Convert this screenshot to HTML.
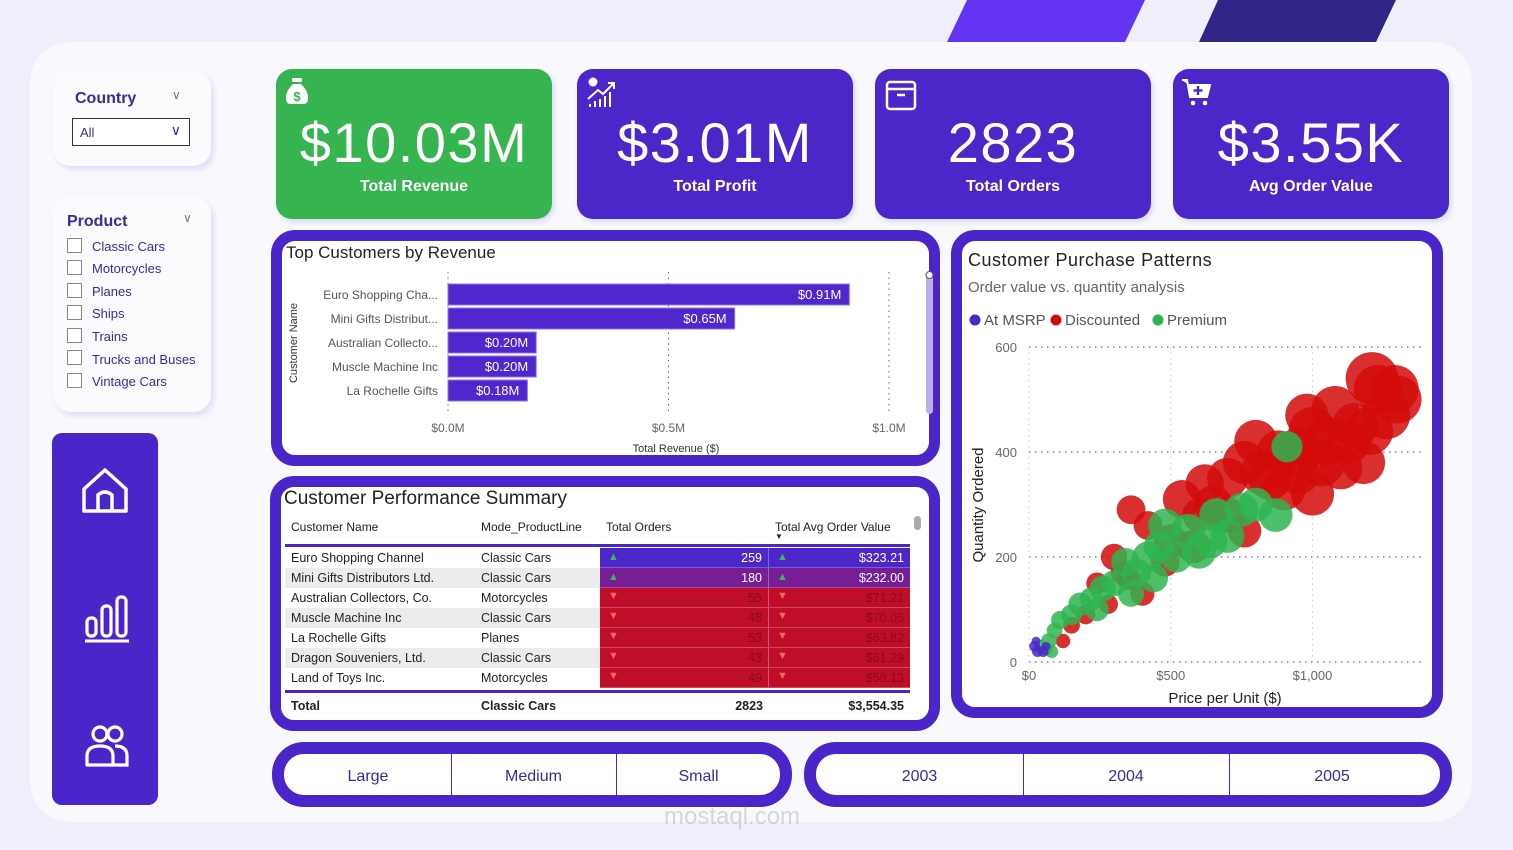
<!DOCTYPE html>
<html><head><meta charset="utf-8">
<style>
*{box-sizing:border-box;margin:0;padding:0}
body{width:1513px;height:850px;background:#efeefb;font-family:"Liberation Sans",sans-serif;position:relative;overflow:hidden}
.abs{position:absolute}
.card{position:absolute;border-radius:16px;color:#fff;text-align:center;box-shadow:2px 3px 6px rgba(80,60,200,.18)}
.kv{position:absolute;left:0;right:0;top:42px;font-size:56px;font-weight:400;letter-spacing:1.5px;line-height:64px}
.kl{position:absolute;left:0;right:0;top:109px;font-size:16px;font-weight:bold}
.panel{position:absolute;border:11px solid #4a25c9;border-radius:24px;background:#fff}
.slicer{position:absolute;background:#fbfbfe;border-radius:18px;box-shadow:3px 4px 6px rgba(120,100,230,.18)}
.chk{position:absolute;left:67px;width:15px;height:15px;border:1px solid #888;background:#fff}
.chl{position:absolute;left:92px;font-size:13px;color:#3a2a9a}
.th{position:absolute;font-size:12px;color:#222}
.td{position:absolute;font-size:12.5px;color:#222}
.seg{position:absolute;top:752px;height:46px;font-size:16px;color:#3a2a9a;text-align:center;line-height:50px}
</style></head><body>
<div class="abs" style="left:0;top:0;width:1513px;height:42px">
<svg width="1513" height="42"><polygon points="967,0 1145,0 1125,42 947,42" fill="#6434f5"/><polygon points="1218,0 1396,0 1376,42 1199,42" fill="#312687"/></svg></div>
<div class="abs" style="left:30px;top:42px;width:1442px;height:780px;background:#f9f9fd;border-radius:40px"></div>

<div class="slicer" style="left:53px;top:70px;width:158px;height:96px"></div>
<div class="abs" style="left:75px;top:90px;font-size:16px;font-weight:bold;color:#3a2a9a">Country</div>
<div class="abs" style="left:172px;top:88px;color:#777;font-size:12px">&#8744;</div>
<div class="abs" style="left:72px;top:118px;width:118px;height:28px;border:1px solid #333;background:#fff;font-size:13px;color:#3a2a9a;padding:6px 0 0 7px">All<span style="position:absolute;right:8px;top:3px;font-size:14px;color:#3a2a9a">&#8744;</span></div>

<div class="slicer" style="left:53px;top:196px;width:158px;height:216px"></div>
<div class="abs" style="left:67px;top:213px;font-size:16px;font-weight:bold;color:#3a2a9a">Product</div>
<div class="abs" style="left:183px;top:211px;color:#777;font-size:12px">&#8744;</div>
<div class="chk" style="top:238px"></div><div class="chl" style="top:239px">Classic Cars</div>
<div class="chk" style="top:260px"></div><div class="chl" style="top:261px">Motorcycles</div>
<div class="chk" style="top:283px"></div><div class="chl" style="top:284px">Planes</div>
<div class="chk" style="top:305px"></div><div class="chl" style="top:306px">Ships</div>
<div class="chk" style="top:328px"></div><div class="chl" style="top:329px">Trains</div>
<div class="chk" style="top:350px"></div><div class="chl" style="top:352px">Trucks and Buses</div>
<div class="chk" style="top:373px"></div><div class="chl" style="top:374px">Vintage Cars</div>

<div class="abs" style="left:52px;top:433px;width:106px;height:372px;background:#4a25c9;border-radius:10px"></div>
<svg class="abs" style="left:80px;top:465px" width="50" height="50" viewBox="0 0 50 50"><path d="M4 24 L25 5 L46 24 L46 46 L4 46 Z" fill="none" stroke="#fff" stroke-width="3.5" stroke-linejoin="round"/><path d="M18 46 L18 30 Q25 24 32 30 L32 46" fill="none" stroke="#fff" stroke-width="3.5"/></svg>
<svg class="abs" style="left:84px;top:594px" width="46" height="50" viewBox="0 0 46 50"><rect x="3" y="24" width="9" height="18" rx="4" fill="none" stroke="#fff" stroke-width="3.2"/><rect x="18" y="12" width="9" height="30" rx="4" fill="none" stroke="#fff" stroke-width="3.2"/><rect x="33" y="3" width="9" height="39" rx="4" fill="none" stroke="#fff" stroke-width="3.2"/><line x1="1" y1="47" x2="45" y2="47" stroke="#fff" stroke-width="3"/></svg>
<svg class="abs" style="left:84px;top:724px" width="46" height="44" viewBox="0 0 46 44"><circle cx="16" cy="10" r="7" fill="none" stroke="#fff" stroke-width="3.2"/><circle cx="31" cy="10" r="7" fill="none" stroke="#fff" stroke-width="3.2"/><path d="M3 41 L3 32 Q3 22 16 22 Q29 22 29 32 L29 41 Z" fill="none" stroke="#fff" stroke-width="3.2" stroke-linejoin="round"/><path d="M31 22 Q43 22 43 32 L43 41 L29 41" fill="none" stroke="#fff" stroke-width="3.2"/></svg>

<div class="card" style="left:276px;top:69px;width:276px;height:150px;background:#35b44f">
<svg class="abs" style="left:8px;top:8px" width="26" height="28" viewBox="0 0 26 28"><rect x="8" y="1" width="10" height="4" rx="1" fill="#fff"/><path d="M9 7 L17 7 Q25 15 24 22 Q24 27 19 27 L7 27 Q2 27 2 22 Q1 15 9 7Z" fill="#fff"/><text x="13" y="24" font-size="13" font-weight="bold" fill="#35b44f" text-anchor="middle" font-family="Liberation Sans">$</text></svg>
<div class="kv">$10.03M</div><div class="kl">Total Revenue</div></div>
<div class="card" style="left:577px;top:69px;width:276px;height:150px;background:#4b26c9">
<svg class="abs" style="left:10px;top:8px" width="30" height="32" viewBox="0 0 30 32"><circle cx="6" cy="5" r="4.5" fill="#fff"/><path d="M1 22 L11 13 L16 17 L26 7" fill="none" stroke="#fff" stroke-width="2"/><path d="M21 6 L27 6 L27 12" fill="none" stroke="#fff" stroke-width="2"/><rect x="2" y="27" width="2" height="3" fill="#fff"/><rect x="7" y="24" width="2" height="6" fill="#fff"/><rect x="12" y="22" width="2" height="8" fill="#fff"/><rect x="17" y="19" width="2" height="11" fill="#fff"/><rect x="22" y="15" width="2" height="15" fill="#fff"/></svg>
<div class="kv">$3.01M</div><div class="kl">Total Profit</div></div>
<div class="card" style="left:875px;top:69px;width:276px;height:150px;background:#4b26c9">
<svg class="abs" style="left:10px;top:10px" width="32" height="32" viewBox="0 0 32 32"><rect x="2" y="3" width="28" height="27" rx="3" fill="none" stroke="#fff" stroke-width="2.5"/><line x1="2" y1="10" x2="30" y2="10" stroke="#fff" stroke-width="2.5"/><line x1="12" y1="16" x2="20" y2="16" stroke="#fff" stroke-width="2.5"/></svg>
<div class="kv">2823</div><div class="kl">Total Orders</div></div>
<div class="card" style="left:1173px;top:69px;width:276px;height:150px;background:#4b26c9">
<svg class="abs" style="left:8px;top:8px" width="32" height="32" viewBox="0 0 32 32"><path d="M1 3 L6 3 L9 20 L26 20 L29 8 L8 8" fill="#fff" stroke="#fff" stroke-width="2"/><line x1="17" y1="9" x2="17" y2="18" stroke="#4b26c9" stroke-width="2.4"/><line x1="12.5" y1="13.5" x2="21.5" y2="13.5" stroke="#4b26c9" stroke-width="2.4"/><circle cx="12" cy="26" r="2.3" fill="#fff"/><circle cx="24" cy="26" r="2.3" fill="#fff"/></svg>
<div class="kv">$3.55K</div><div class="kl">Avg Order Value</div></div>

<div class="panel" style="left:271px;top:230px;width:669px;height:236px"></div>
<svg class="abs" id="barsvg" style="left:0;top:0" width="1513" height="850"></svg>

<div class="panel" style="left:270px;top:476px;width:670px;height:255px"></div>
<div class="abs" style="left:284px;top:488px;font-size:19px;color:#222">Customer Performance Summary</div>
<div id="tbl"></div>

<div class="panel" style="left:951px;top:230px;width:492px;height:488px"></div>
<svg class="abs" id="scsvg" style="left:0;top:0" width="1513" height="850"></svg>

<div class="abs" style="left:272px;top:742px;width:520px;height:65px;border:12px solid #4a25c9;border-radius:32px;background:#fff"></div>
<div class="seg" style="left:286px;width:164px">Large</div>
<div class="seg" style="left:451px;width:164px;border-left:1px solid #4a25c9">Medium</div>
<div class="seg" style="left:616px;width:164px;border-left:1px solid #4a25c9">Small</div>
<div class="abs" style="left:804px;top:742px;width:648px;height:65px;border:12px solid #4a25c9;border-radius:32px;background:#fff"></div>
<div class="seg" style="left:817px;width:205px">2003</div>
<div class="seg" style="left:1023px;width:205px;border-left:1px solid #4a25c9">2004</div>
<div class="seg" style="left:1229px;width:205px;border-left:1px solid #4a25c9">2005</div>
<div class="abs" style="left:664px;top:803px;font-size:24px;color:rgba(150,150,150,.35)">mostaql.com</div>

<script>
const NS='http://www.w3.org/2000/svg';
function mk(svg,tag,attrs,txt){const e=document.createElementNS(NS,tag);for(const k in attrs)e.setAttribute(k,attrs[k]);if(txt!==undefined)e.textContent=txt;svg.appendChild(e);return e;}

const barCustomers=['Euro Shopping Cha...','Mini Gifts Distribut...','Australian Collecto...','Muscle Machine Inc','La Rochelle Gifts'];
const barRevenue=[0.91,0.65,0.20,0.20,0.18];
const barLabels=['$0.91M','$0.65M','$0.20M','$0.20M','$0.18M'];
const barTicks=[0,0.5,1.0];
const barTickLabels=['$0.0M','$0.5M','$1.0M'];
(function(){
  const s=document.getElementById('barsvg');
  const xs=v=>448+v*441, ys=i=>284+i*24;
  mk(s,'text',{x:286,y:258,'font-size':17,fill:'#222','font-family':'Liberation Sans'},'Top Customers by Revenue');
  barTicks.forEach((t,i)=>{
    const g=mk(s,'line',{x1:xs(t),x2:xs(t),y1:272,y2:412,stroke:'#6a55d8','stroke-dasharray':'1.5 4'});
    
    
    const tl=mk(s,'text',{x:xs(t),y:432,'font-size':12,fill:'#666','text-anchor':'middle','font-family':'Liberation Sans'},barTickLabels[i]);
    
    
  });
  barCustomers.forEach((c,i)=>{
    const r=mk(s,'rect',{x:xs(0),y:ys(i),width:xs(barRevenue[i])-xs(0),height:21,fill:'#4f27cc',stroke:'#8c74e8','stroke-width':1});
    
    
    const cl=mk(s,'text',{x:438,y:ys(i)+15,'font-size':12,fill:'#555','text-anchor':'end','font-family':'Liberation Sans'},c);
    
    
    const vl=mk(s,'text',{x:xs(barRevenue[i])-8,y:ys(i)+15,'font-size':13,fill:'#fff','text-anchor':'end','font-family':'Liberation Sans'},barLabels[i]);
    
    
  });
  const yt=mk(s,'text',{x:297,y:343,'font-size':11,fill:'#333','text-anchor':'middle',transform:'rotate(-90 297 343)','font-family':'Liberation Sans'},'Customer Name');
  
  
  const xt=mk(s,'text',{x:676,y:452,'font-size':11,fill:'#333','text-anchor':'middle','font-family':'Liberation Sans'},'Total Revenue ($)');
  
  
  const sb=mk(s,'rect',{x:926,y:272,width:7,height:142,rx:3.5,fill:'#b9b0e8'});
  
  
  mk(s,'circle',{cx:929.5,cy:275,r:3.5,fill:'#fff',stroke:'#555'});
})();

const tCustomers=['Euro Shopping Channel','Mini Gifts Distributors Ltd.','Australian Collectors, Co.','Muscle Machine Inc','La Rochelle Gifts','Dragon Souveniers, Ltd.','Land of Toys Inc.'];
const tProducts=['Classic Cars','Classic Cars','Motorcycles','Classic Cars','Planes','Classic Cars','Motorcycles'];
const tOrders=[259,180,55,48,53,43,49];
const tAvg=[323.21,232.00,71.21,70.05,63.82,61.29,58.13];
(function(){
  const t=document.getElementById('tbl');
  function add(html,name,inter){const d=document.createElement('div');d.innerHTML=html;const e=d.firstChild;
    
    
    t.appendChild(e);}
  add('<div class="th" style="left:291px;top:520px">Customer Name</div>','header-customer-name','true');
  add('<div class="th" style="left:481px;top:520px">Mode_ProductLine</div>','header-product-line','true');
  add('<div class="th" style="left:606px;top:520px">Total Orders</div>','header-total-orders','true');
  add('<div class="th" style="left:775px;top:520px">Total Avg Order Value<div style="font-size:8px;margin-top:-2px">&#9660;</div></div>','header-avg-order-value','true');
  add('<div class="abs" style="left:285px;top:544px;width:625px;height:3px;background:#4a25c9"></div>','header-divider','false');
  add('<div class="abs" style="left:914px;top:516px;width:7px;height:14px;border-radius:4px;background:#aaa"></div>','table-scrollbar','true');
  tCustomers.forEach((c,i)=>{
    const y=548+i*20, bg=i%2?'#ececec':'#fff';
    const cell=i==0?'#4b27c9':i==1?'#771e96':'#c00d2a';
    const up=tOrders[i]>100, tc=i<2?'#fff':'#8c0a1c';
    const tri=up?'<span style="position:absolute;left:8px;top:3px;color:#3fb55a;font-size:11px">&#9650;</span>':'<span style="position:absolute;left:8px;top:2px;color:#ee6a5a;font-size:11px">&#9660;</span>';
    add(`<div class="abs" style="left:285px;top:${y}px;width:315px;height:20px;background:${bg}"></div>`,'row-bg-'+i,'false');
    add(`<div class="td" style="left:291px;top:${y+3}px">${c}</div>`,'cell-customer-'+i,'false');
    add(`<div class="td" style="left:481px;top:${y+3}px">${tProducts[i]}</div>`,'cell-product-'+i,'false');
    add(`<div class="abs" style="left:600px;top:${y}px;width:169px;height:20px;background:${cell};border-bottom:1px solid rgba(255,255,255,.25);border-right:1px solid rgba(255,255,255,.3)">${tri}<span style="position:absolute;right:6px;top:3px;font-size:12.5px;color:${tc}">${tOrders[i]}</span></div>`,'cell-orders-'+i,'false');
    add(`<div class="abs" style="left:769px;top:${y}px;width:141px;height:20px;background:${cell};border-bottom:1px solid rgba(255,255,255,.25)">${tri}<span style="position:absolute;right:6px;top:3px;font-size:12.5px;color:${tc}">$${tAvg[i].toFixed(2)}</span></div>`,'cell-avg-'+i,'false');
  });
  add('<div class="abs" style="left:285px;top:690px;width:625px;height:3px;background:#4a25c9"></div>','total-divider','false');
  add('<div class="td" style="left:291px;top:699px;font-weight:bold">Total</div>','total-label','false');
  add('<div class="td" style="left:481px;top:699px;font-weight:bold">Classic Cars</div>','total-product','false');
  add('<div class="td" style="left:700px;width:63px;text-align:right;top:699px;font-weight:bold">2823</div>','total-orders','false');
  add('<div class="td" style="left:800px;width:104px;text-align:right;top:699px;font-weight:bold">$3,554.35</div>','total-avg','false');
})();

const scPrice=[1210,1300,1230,1150,1080,1000,950,880,800,760,900,1000,1100,1180,700,620,540,650,760,580,500,360,420,300,330,400,280,150,200,120,1050,850,950,1130,1260,700,480,350,240,1030,1200,820,600,1290,980,
 910,870,750,660,560,480,460,420,380,340,300,260,220,180,150,110,90,70,600,520,640,360,240,800,700,440,80,40,60,
 20,30,50,25,60];
const scQty=[540,500,520,450,480,440,400,400,420,380,330,320,370,380,350,340,310,300,250,220,230,290,260,200,170,130,110,70,90,40,420,350,360,420,470,280,190,160,150,380,440,360,280,520,470,
 410,280,290,280,250,260,220,200,170,190,150,140,120,110,90,80,60,40,210,200,230,130,100,300,240,160,20,30,25,
 30,20,20,40,30];
const scSize=[22,20,20,19,20,20,20,18,18,18,18,18,18,18,17,16,16,16,14,14,14,12,12,11,10,10,8,7,8,6,20,18,18,18,20,15,12,10,9,20,20,18,14,20,18,
 12,13,13,13,13,13,12,12,11,11,10,10,9,9,8,7,6,6,13,12,13,10,9,13,13,11,5,5,5,
 5,5,5,4,4];
const scCat=['D','D','D','D','D','D','D','D','D','D','D','D','D','D','D','D','D','D','D','D','D','D','D','D','D','D','D','D','D','D','D','D','D','D','D','D','D','D','D','D','D','D','D','D','D',
 'P','P','P','P','P','P','P','P','P','P','P','P','P','P','P','P','P','P','P','P','P','P','P','P','P','P','P','P','P',
 'M','M','M','M','M'];
const xTicks=[0,500,1000], xTickLabels=['$0','$500','$1,000'];
const yTicks=[0,200,400,600], yTickLabels=['0','200','400','600'];
(function(){
  const s=document.getElementById('scsvg');
  const X=v=>1029+v*0.2835, Y=v=>662-v*0.525;
  const F='Liberation Sans';
  mk(s,'text',{x:968,y:266,'font-size':18,fill:'#222','font-family':F,'letter-spacing':'0.5'},'Customer Purchase Patterns');
  mk(s,'text',{x:968,y:292,'font-size':15,fill:'#666','font-family':F},'Order value vs. quantity analysis');
  const leg=[['#4b27c9','At MSRP',975],['#d40a0a','Discounted',1056],['#2fb450','Premium',1158]];
  leg.forEach(l=>{const c=mk(s,'circle',{cx:l[2],cy:320,r:5.5,fill:l[0]});
    
    
    mk(s,'text',{x:l[2]+9,y:325,'font-size':15,fill:'#555','font-family':F},l[1]);});
  yTicks.forEach((t,i)=>{
    mk(s,'line',{x1:1029,x2:1421,y1:Y(t),y2:Y(t),stroke:'#6a55d8','stroke-dasharray':'1.5 4.5','stroke-width':1.3});
    const tl=mk(s,'text',{x:1017,y:Y(t)+5,'font-size':13,fill:'#666','text-anchor':'end','font-family':F},yTickLabels[i]);
    
    
  });
  xTicks.forEach((t,i)=>{
    mk(s,'line',{x1:X(t),x2:X(t),y1:347,y2:662,stroke:'#ccc','stroke-dasharray':'1.5 4'});
    const tl=mk(s,'text',{x:X(t),y:680,'font-size':13,fill:'#666','text-anchor':'middle','font-family':F},xTickLabels[i]);
    
    
  });
  const col={D:'#d40a0a',P:'#2fb450',M:'#4b27c9'};
  const scale={D:1.2,P:1.3,M:1.1};
  ['D','P','M'].forEach(cat=>{
    scPrice.forEach((p,i)=>{ if(scCat[i]!==cat)return;
      const c=mk(s,'circle',{cx:X(p),cy:Y(scQty[i]),r:scSize[i]*scale[cat],fill:col[cat],'fill-opacity':0.85});
      
      
    });
  });
  const yt=mk(s,'text',{x:983,y:505,'font-size':15,fill:'#222','text-anchor':'middle',transform:'rotate(-90 983 505)','font-family':F},'Quantity Ordered');
  
  
  const xt=mk(s,'text',{x:1225,y:703,'font-size':15,fill:'#222','text-anchor':'middle','font-family':F},'Price per Unit ($)');
  
  
})();
</script>
</body></html>
